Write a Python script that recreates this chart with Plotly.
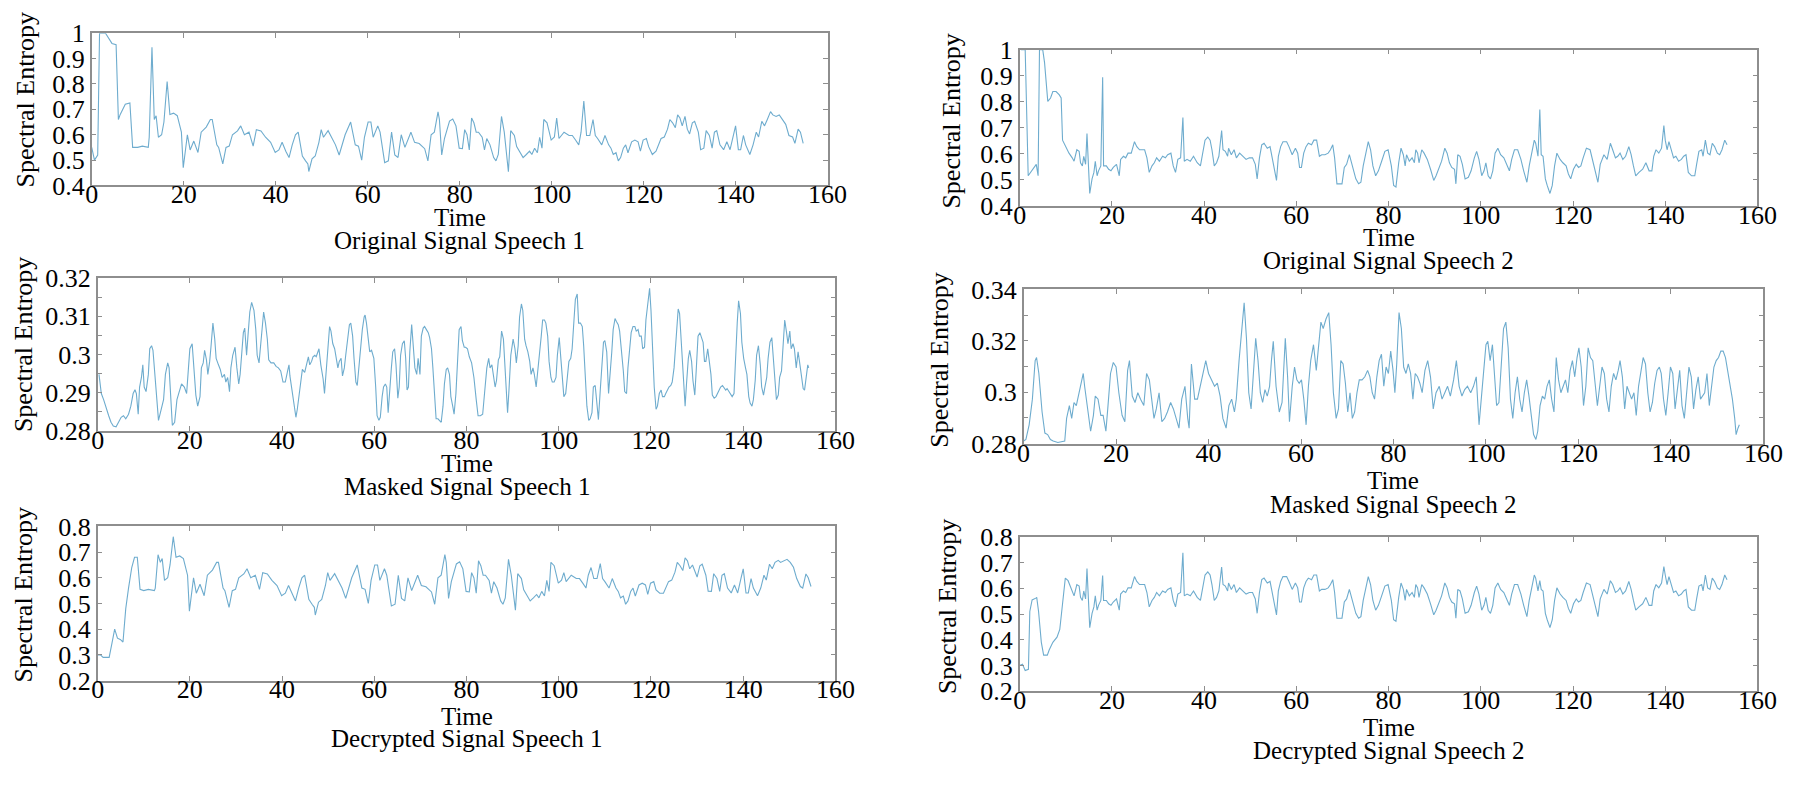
import plotly.graph_objects as go

# ---------------- data ----------------
time_ticks = [0, 20, 40, 60, 80, 100, 120, 140, 160]
time_tick_text = ["0", "20", "40", "60", "80", "100", "120", "140", "160"]

orig_ticks = [0.4, 0.5, 0.6, 0.7, 0.8, 0.9, 1.0]
orig_tick_text = ["0.4", "0.5", "0.6", "0.7", "0.8", "0.9", "1"]
masked1_ticks = [0.28, 0.285, 0.29, 0.295, 0.30, 0.305, 0.31, 0.315, 0.32]
masked1_tick_text = ["0.28", "", "0.29", "", "0.3", "", "0.31", "", "0.32"]
masked2_ticks = [0.28, 0.29, 0.30, 0.31, 0.32, 0.33, 0.34]
masked2_tick_text = ["0.28", "", "0.3", "", "0.32", "", "0.34"]
dec_ticks = [0.2, 0.3, 0.4, 0.5, 0.6, 0.7, 0.8]
dec_tick_text = ["0.2", "0.3", "0.4", "0.5", "0.6", "0.7", "0.8"]

titles = ["Original Signal Speech 1", "Original Signal Speech 2",
          "Masked Signal Speech 1", "Masked Signal Speech 2",
          "Decrypted Signal Speech 1", "Decrypted Signal Speech 2"]

# (time, spectral entropy) pairs
orig1 = [
 (0.0,0.55),(0.6,0.50),(1.3,0.52),(1.7,1.00),(3.0,1.00),(4.4,0.96),(5.3,0.955),(5.8,0.66),(6.2,0.68),
 (7.3,0.72),(8.3,0.725),(8.9,0.55),(10.0,0.55),(11.0,0.555),(12.3,0.55),(12.5,0.59),(13.1,0.945),
 (13.6,0.66),(14.0,0.675),(14.5,0.59),(15.2,0.60),(15.7,0.65),(16.4,0.81),(17.0,0.68),(17.8,0.685),
 (18.6,0.675),(19.5,0.61),(19.9,0.47),(20.8,0.60),(21.4,0.54),(22.2,0.575),(23.1,0.53),(23.8,0.61),
 (24.9,0.63),(25.8,0.66),(26.2,0.66),(27.2,0.56),(27.6,0.55),(28.5,0.485),(29.2,0.55),(29.9,0.555),
 (30.6,0.60),(31.7,0.615),(32.4,0.635),(33.2,0.60),(34.2,0.61),(35.1,0.555),(35.8,0.62),(36.8,0.615),
 (37.8,0.59),(38.9,0.57),(39.9,0.53),(40.7,0.54),(41.4,0.57),(42.2,0.535),(42.9,0.51),(43.6,0.56),
 (44.3,0.60),(44.9,0.61),(45.8,0.516),(46.5,0.497),(47.0,0.485),(47.2,0.455),(47.9,0.505),(48.6,0.516),
 (49.4,0.57),(49.9,0.62),(50.4,0.59),(51.4,0.616),(52.2,0.59),(53.0,0.56),(53.8,0.52),(55.1,0.60),
 (56.3,0.65),(57.3,0.56),(58.0,0.555),(58.7,0.50),(59.3,0.59),(60.1,0.65),(60.7,0.65),(61.2,0.59),
 (62.2,0.635),(62.7,0.61),(63.7,0.49),(64.5,0.497),(65.2,0.61),(65.9,0.52),(66.6,0.51),(67.3,0.60),
 (68.1,0.55),(69.4,0.61),(70.2,0.57),(71.2,0.565),(72.4,0.545),(73.1,0.497),(73.8,0.60),(74.5,0.61),
 (75.3,0.69),(75.6,0.66),(76.1,0.52),(76.7,0.585),(77.8,0.654),(78.5,0.662),(79.2,0.635),(79.9,0.547),
 (80.6,0.545),(81.1,0.62),(81.6,0.60),(82.1,0.54),(82.6,0.666),(83.1,0.647),(83.6,0.61),(84.1,0.61),
 (84.9,0.59),(85.4,0.54),(85.9,0.585),(86.6,0.56),(87.4,0.51),(87.9,0.497),(88.4,0.522),(89.1,0.672),
 (89.7,0.61),(90.2,0.522),(90.6,0.454),(91.1,0.616),(91.9,0.597),(92.4,0.553),(93.1,0.529),(93.8,0.51),
 (94.5,0.522),(95.2,0.535),(95.7,0.522),(96.3,0.547),(96.9,0.529),(97.4,0.59),(97.9,0.547),(98.3,0.66),
 (99.0,0.647),(99.9,0.579),(100.6,0.591),(101.1,0.666),(101.6,0.585),(102.7,0.61),(103.8,0.597),
 (104.5,0.597),(105.2,0.579),(105.9,0.56),(106.4,0.61),(107.0,0.733),(107.6,0.597),(108.3,0.597),
 (109.0,0.66),(109.5,0.597),(110.0,0.585),(110.9,0.56),(111.6,0.597),(112.4,0.56),(112.9,0.547),
 (113.4,0.522),(114.0,0.529),(114.5,0.497),(115.0,0.51),(115.6,0.547),(116.1,0.56),(116.6,0.529),
 (117.4,0.572),(118.1,0.579),(118.8,0.572),(119.3,0.535),(119.9,0.579),(120.6,0.585),(121.1,0.553),
 (121.9,0.522),(122.7,0.535),(123.8,0.585),(124.5,0.591),(125.2,0.622),(125.7,0.66),(126.3,0.647),
 (126.9,0.628),(127.4,0.678),(127.9,0.666),(128.4,0.635),(129.0,0.672),(129.5,0.622),(130.0,0.603),
 (130.6,0.647),(131.1,0.653),(131.9,0.61),(132.4,0.541),(133.1,0.547),(133.6,0.616),(134.3,0.597),
 (134.9,0.547),(135.4,0.61),(135.9,0.616),(136.6,0.56),(137.4,0.541),(138.1,0.572),(138.8,0.541),
 (139.5,0.597),(140.0,0.635),(140.6,0.541),(141.1,0.541),(141.7,0.597),(142.2,0.56),(143.1,0.522),
 (143.8,0.56),(144.5,0.61),(145.0,0.591),(145.7,0.653),(146.3,0.635),(146.9,0.66),(147.6,0.691),
 (148.1,0.678),(148.8,0.672),(149.5,0.678),(150.2,0.66),(150.9,0.641),(151.6,0.597),(152.4,0.591),
 (152.9,0.566),(153.6,0.622),(154.1,0.61),(154.7,0.566)]

orig2 = [
 (0.3,1.0),(1.2,1.0),(1.85,0.515),(2.6,0.534),(3.1,0.547),(3.6,0.559),(4.0,0.515),(4.3,1.0),(5.0,1.0),
 (5.4,0.95),(6.1,0.801),(6.7,0.814),(7.2,0.839),(7.9,0.839),(8.6,0.826),(9.0,0.814),(9.3,0.652),
 (10.0,0.627),(10.7,0.602),(11.4,0.584),(11.8,0.571),(12.4,0.615),(12.9,0.609),(13.2,0.565),(13.6,0.553),
 (13.9,0.59),(14.3,0.559),(14.6,0.677),(15.0,0.478),(15.2,0.447),(15.7,0.503),(16.1,0.528),(16.4,0.571),
 (16.8,0.515),(17.1,0.534),(17.6,0.553),(18.0,0.894),(18.2,0.553),(18.8,0.553),(19.3,0.54),(19.8,0.534),
 (20.3,0.547),(21.0,0.559),(21.6,0.515),(21.9,0.578),(22.5,0.59),(23.0,0.584),(23.5,0.602),(24.2,0.602),
 (24.9,0.646),(25.4,0.627),(26.0,0.615),(26.6,0.615),(27.1,0.615),(27.6,0.584),(28.1,0.528),(28.7,0.553),
 (29.2,0.565),(29.7,0.584),(30.3,0.571),(31.0,0.59),(31.6,0.584),(32.1,0.596),(32.8,0.602),(33.3,0.553),
 (33.8,0.528),(34.3,0.578),(34.9,0.584),(35.4,0.739),(35.7,0.571),(36.3,0.578),(37.0,0.571),(37.7,0.59),
 (38.5,0.565),(39.2,0.553),(39.7,0.602),(40.2,0.652),(40.8,0.664),(41.3,0.652),(41.7,0.615),(42.2,0.553),
 (42.7,0.565),(43.2,0.59),(43.8,0.689),(44.1,0.615),(44.6,0.609),(45.1,0.59),(45.3,0.621),(45.9,0.596),
 (46.5,0.615),(47.0,0.584),(47.7,0.602),(48.4,0.59),(49.1,0.578),(49.8,0.584),(50.5,0.584),(51.1,0.559),
 (51.5,0.503),(52.0,0.584),(52.5,0.634),(53.0,0.64),(53.7,0.621),(54.3,0.627),(54.8,0.578),(55.2,0.547),
 (55.7,0.497),(56.1,0.59),(56.6,0.627),(57.1,0.646),(57.9,0.646),(58.4,0.627),(59.1,0.596),(59.8,0.621),
 (60.3,0.602),(60.7,0.547),(61.1,0.547),(61.6,0.602),(62.1,0.627),(62.6,0.64),(63.3,0.634),(63.8,0.652),
 (64.4,0.652),(65.0,0.59),(65.5,0.596),(66.2,0.596),(66.9,0.602),(67.4,0.615),(67.9,0.634),(68.3,0.584),
 (68.8,0.484),(69.3,0.484),(69.9,0.484),(70.4,0.547),(70.9,0.559),(71.5,0.596),(72.2,0.553),(72.9,0.503),
 (73.5,0.484),(74.0,0.49),(74.5,0.553),(75.1,0.602),(75.6,0.646),(76.1,0.615),(76.6,0.553),(77.2,0.515),
 (77.8,0.534),(78.5,0.571),(79.2,0.609),(79.9,0.615),(80.1,0.596),(80.6,0.553),(81.1,0.478),(81.6,0.472),
 (82.2,0.565),(82.7,0.621),(83.2,0.596),(83.6,0.553),(83.9,0.596),(84.5,0.571),(85.1,0.584),(85.6,0.565),
 (85.9,0.615),(86.3,0.602),(86.6,0.565),(87.2,0.615),(87.7,0.602),(88.4,0.578),(89.1,0.54),(89.8,0.497),
 (90.3,0.515),(90.9,0.547),(91.5,0.571),(92.2,0.621),(92.7,0.602),(93.2,0.565),(93.7,0.547),(94.3,0.54),
 (94.6,0.484),(95.0,0.596),(95.5,0.59),(96.0,0.559),(96.6,0.503),(97.3,0.509),(97.9,0.534),(98.6,0.584),
 (99.1,0.609),(99.6,0.578),(100.2,0.515),(100.7,0.534),(101.1,0.565),(101.6,0.515),(102.1,0.503),
 (102.6,0.534),(103.1,0.602),(103.7,0.621),(104.3,0.596),(105.0,0.584),(105.7,0.553),(106.2,0.534),
 (106.7,0.578),(107.3,0.615),(108.0,0.615),(108.7,0.578),(109.3,0.534),(110.0,0.49),(110.5,0.553),
 (111.1,0.602),(111.6,0.652),(111.9,0.64),(112.4,0.59),(112.8,0.77),(113.1,0.596),(113.5,0.59),
 (114.0,0.503),(114.4,0.478),(115.0,0.447),(115.5,0.478),(116.0,0.553),(116.5,0.602),(117.2,0.578),
 (117.8,0.565),(118.5,0.553),(119.0,0.522),(119.5,0.503),(120.1,0.54),(120.7,0.559),(121.2,0.547),
 (121.7,0.553),(122.2,0.584),(122.9,0.621),(123.7,0.615),(124.4,0.559),(124.9,0.528),(125.4,0.49),
 (125.9,0.559),(126.7,0.596),(127.4,0.578),(128.1,0.64),(128.6,0.615),(129.2,0.584),(129.7,0.59),
 (130.2,0.602),(130.8,0.578),(131.4,0.59),(132.1,0.627),(132.6,0.596),(133.1,0.553),(133.6,0.515),
 (134.3,0.528),(135.1,0.54),(135.8,0.565),(136.5,0.534),(137.1,0.534),(137.5,0.59),(138.0,0.615),
 (138.6,0.602),(139.2,0.621),(139.7,0.708),(140.0,0.652),(140.4,0.615),(140.8,0.646),(141.3,0.609),
 (141.8,0.584),(142.3,0.59),(142.9,0.571),(143.5,0.578),(144.0,0.59),(144.5,0.596),(145.0,0.528),
 (145.7,0.515),(146.4,0.515),(146.8,0.559),(147.3,0.609),(147.9,0.615),(148.2,0.59),(148.7,0.652),
 (149.2,0.602),(149.7,0.596),(150.2,0.64),(150.7,0.627),(151.3,0.602),(151.8,0.596),(152.3,0.615),
 (152.9,0.652),(153.4,0.634)]

masked1 = [
 (0.3,0.2948),(0.8,0.2898),(1.3,0.2882),(1.9,0.2857),(2.4,0.2840),(2.9,0.2823),(3.4,0.2813),(4.0,0.2811),
 (4.6,0.2823),(5.1,0.2836),(5.6,0.2840),(6.1,0.2832),(6.7,0.2844),(7.2,0.2865),(7.7,0.2898),(8.1,0.2908),
 (8.4,0.2898),(8.8,0.2844),(9.1,0.2915),(9.5,0.2940),(9.8,0.2973),(10.1,0.2915),(10.5,0.2903),(11.0,0.2948),
 (11.3,0.3015),(11.7,0.3023),(12.0,0.3011),(12.5,0.2940),(13.0,0.2873),(13.2,0.2828),(13.8,0.2857),
 (14.3,0.2882),(14.7,0.2948),(15.2,0.2978),(15.5,0.2965),(16.0,0.2865),(16.2,0.2815),(16.7,0.2823),
 (17.2,0.2882),(17.7,0.2903),(18.2,0.2923),(18.8,0.2915),(19.3,0.2898),(19.7,0.2965),(20.0,0.3015),
 (20.5,0.3028),(20.9,0.2965),(21.3,0.2894),(21.7,0.2865),(22.2,0.2890),(22.5,0.2965),(22.9,0.2978),
 (23.2,0.3011),(23.6,0.2986),(23.9,0.2948),(24.3,0.2982),(24.6,0.3023),(25.0,0.3082),(25.4,0.3040),
 (25.7,0.2990),(26.2,0.2973),(26.6,0.2961),(27.0,0.2940),(27.5,0.2948),(27.8,0.2928),(28.2,0.2940),
 (28.6,0.2903),(28.9,0.2965),(29.3,0.2998),(29.8,0.3019),(30.2,0.2965),(30.6,0.2923),(30.9,0.2948),
 (31.3,0.3003),(31.6,0.3057),(31.9,0.3069),(32.3,0.2998),(32.6,0.3048),(33.0,0.3111),(33.4,0.3136),
 (33.9,0.3115),(34.3,0.3065),(34.6,0.2998),(35.0,0.2978),(35.3,0.3015),(35.7,0.3073),(36.0,0.3111),
 (36.4,0.3082),(36.8,0.3040),(37.1,0.2986),(37.6,0.2978),(38.2,0.2978),(38.7,0.2969),(39.2,0.2965),
 (39.7,0.2957),(40.2,0.2928),(40.7,0.2928),(41.2,0.2957),(41.5,0.2973),(41.7,0.2944),(42.1,0.2907),
 (42.6,0.2873),(43.0,0.2836),(43.3,0.2857),(43.9,0.2923),(44.4,0.2961),(44.9,0.2953),(45.3,0.2973),
 (45.7,0.2994),(46.0,0.2973),(46.4,0.2982),(46.7,0.2994),(47.1,0.2998),(47.4,0.2994),(48.0,0.3015),
 (48.4,0.2973),(48.9,0.2936),(49.2,0.2898),(49.6,0.2965),(49.9,0.3023),(50.3,0.3073),(50.6,0.3061),
 (51.0,0.3028),(51.4,0.3015),(51.7,0.2990),(52.1,0.2965),(52.4,0.2982),(52.8,0.2990),(53.1,0.2944),
 (53.5,0.2965),(53.8,0.2998),(54.2,0.3036),(54.6,0.3078),(54.9,0.3082),(55.3,0.3048),(55.6,0.2990),
 (56.0,0.2928),(56.3,0.2919),(56.7,0.2973),(57.1,0.3032),(57.4,0.3065),(57.8,0.3098),(58.0,0.3103),
 (58.3,0.3082),(58.7,0.3036),(59.0,0.3007),(59.4,0.3011),(59.9,0.2990),(60.3,0.2915),(60.6,0.2840),
 (61.0,0.2828),(61.3,0.2836),(61.7,0.2890),(62.0,0.2915),(62.4,0.2923),(62.7,0.2915),(63.0,0.2848),
 (63.2,0.2890),(63.7,0.2965),(64.0,0.3007),(64.4,0.3015),(64.7,0.2973),(65.1,0.2886),(65.4,0.2915),
 (65.7,0.2998),(66.1,0.3028),(66.5,0.3036),(66.8,0.2990),(67.1,0.2907),(67.4,0.2915),(67.7,0.3007),
 (68.1,0.3078),(68.4,0.3015),(68.8,0.2965),(69.2,0.2948),(69.5,0.2990),(69.9,0.2948),(70.2,0.3048),
 (70.6,0.3069),(70.9,0.3073),(71.3,0.3065),(71.7,0.3057),(72.0,0.3044),(72.4,0.3015),(72.7,0.2965),
 (73.1,0.2882),(73.4,0.2832),(73.8,0.2832),(74.1,0.2828),(74.5,0.2823),(74.9,0.2865),(75.2,0.2923),
 (75.6,0.2961),(75.9,0.2965),(76.3,0.2948),(76.6,0.2890),(77.0,0.2865),(77.3,0.2844),(77.7,0.2898),
 (78.1,0.2990),(78.4,0.3065),(78.8,0.3073),(79.1,0.3036),(79.5,0.3019),(79.8,0.3019),(80.2,0.3015),
 (80.6,0.2994),(81.1,0.2978),(81.6,0.2940),(82.1,0.2882),(82.5,0.2840),(83.0,0.2840),(83.5,0.2844),
 (83.9,0.2898),(84.4,0.2965),(84.8,0.2990),(85.1,0.2965),(85.5,0.2973),(85.8,0.2948),(86.2,0.2915),
 (86.5,0.2932),(86.9,0.2986),(87.2,0.2994),(87.6,0.3061),(88.0,0.3040),(88.3,0.2973),(88.7,0.2898),
 (88.9,0.2848),(89.2,0.2907),(89.6,0.2998),(90.1,0.3040),(90.5,0.3015),(90.8,0.2978),(91.2,0.3023),
 (91.5,0.3098),(91.9,0.3132),(92.2,0.3115),(92.6,0.3040),(92.9,0.3023),(93.3,0.3007),(93.7,0.2982),
 (94.0,0.2948),(94.4,0.2965),(94.7,0.2948),(95.1,0.2915),(95.4,0.2948),(95.8,0.2990),(96.2,0.3048),
 (96.5,0.3090),(96.9,0.3090),(97.2,0.3082),(97.6,0.3048),(97.9,0.2982),(98.3,0.2940),(98.6,0.2928),
 (99.0,0.2928),(99.4,0.2940),(99.7,0.2998),(100.1,0.3044),(100.4,0.2998),(100.8,0.2932),(101.1,0.2890),
 (101.5,0.2898),(101.9,0.2948),(102.2,0.2982),(102.6,0.2990),(102.9,0.3015),(103.3,0.3090),(103.6,0.3144),
 (104.0,0.3158),(104.3,0.3082),(104.7,0.3082),(105.1,0.3073),(105.4,0.3023),(105.8,0.2923),(106.1,0.2865),
 (106.5,0.2828),(106.8,0.2832),(107.2,0.2848),(107.5,0.2915),(107.9,0.2919),(108.3,0.2857),(108.6,0.2830),
 (109.0,0.2907),(109.3,0.2965),(109.7,0.3032),(110.0,0.3036),(110.4,0.3007),(110.8,0.2898),(111.1,0.2940),
 (111.5,0.3007),(111.8,0.3065),(112.2,0.3094),(112.5,0.3086),(112.9,0.3078),(113.2,0.3061),(113.6,0.3015),
 (114.0,0.2957),(114.3,0.2903),(114.7,0.2898),(115.0,0.2965),(115.4,0.3015),(115.7,0.3057),(116.1,0.3073),
 (116.5,0.3073),(116.8,0.3061),(117.2,0.3065),(117.5,0.3048),(117.9,0.3048),(118.2,0.3015),(118.6,0.3019),
 (118.9,0.3090),(119.3,0.3140),(119.7,0.3173),(120.0,0.3115),(120.4,0.3007),(120.7,0.2915),(121.1,0.2857),
 (121.4,0.2865),(121.8,0.2898),(122.2,0.2907),(122.5,0.2890),(122.9,0.2890),(123.2,0.2898),(123.6,0.2907),
 (123.9,0.2915),(124.3,0.2919),(124.6,0.2928),(125.0,0.2965),(125.4,0.3032),(125.7,0.3090),(125.9,0.3119),
 (126.2,0.3107),(126.6,0.3023),(126.9,0.2940),(127.4,0.2865),(127.7,0.2923),(128.1,0.2990),(128.4,0.3011),
 (128.8,0.2982),(129.1,0.2932),(129.5,0.2894),(129.8,0.2957),(130.2,0.3048),(130.6,0.3057),(130.9,0.3048),
 (131.3,0.3032),(131.6,0.2982),(131.9,0.2982),(132.3,0.3015),(132.6,0.2986),(133.0,0.2948),(133.3,0.2894),
 (133.7,0.2886),(134.1,0.2890),(134.4,0.2898),(134.8,0.2907),(135.1,0.2915),(135.5,0.2919),(135.8,0.2915),
 (136.2,0.2907),(136.5,0.2911),(136.9,0.2903),(137.3,0.2894),(137.6,0.2890),(138.0,0.2898),(138.3,0.2990),
 (138.7,0.3082),(139.0,0.3140),(139.4,0.3107),(139.7,0.3032),(140.1,0.2990),(140.5,0.2965),(140.8,0.2948),
 (141.2,0.2890),(141.5,0.2873),(141.9,0.2865),(142.2,0.2882),(142.6,0.2932),(142.9,0.2998),(143.3,0.3023),
 (143.7,0.2973),(144.0,0.2915),(144.4,0.2894),(144.7,0.2915),(145.1,0.2940),(145.4,0.2990),(145.8,0.3032),
 (146.2,0.3044),(146.5,0.2990),(146.9,0.2923),(147.2,0.2882),(147.6,0.2894),(147.9,0.2940),(148.3,0.2957),
 (148.6,0.3015),(149.0,0.3090),(149.4,0.3057),(149.7,0.3028),(150.1,0.3061),(150.4,0.3015),(150.8,0.3028),
 (151.1,0.3015),(151.5,0.2965),(151.9,0.3007),(152.2,0.2982),(152.6,0.2940),(153.0,0.2911),(153.3,0.2907),
 (153.6,0.2940),(154.0,0.2973),(154.2,0.2965)]

masked2 = [
 (0.0,0.281),(0.5,0.2816),(1.2,0.2873),(1.9,0.2973),(2.5,0.3123),(2.8,0.3135),(3.3,0.3073),(4.0,0.2923),
 (4.6,0.2841),(5.2,0.2835),(5.8,0.2816),(6.4,0.281),(7.4,0.2804),(8.3,0.2808),(8.9,0.281),(9.3,0.2898),
 (9.9,0.2948),(10.4,0.2898),(10.9,0.296),(11.4,0.2948),(12.0,0.2998),(12.4,0.3035),(12.9,0.3073),
 (13.2,0.3023),(13.8,0.2935),(14.5,0.2848),(15.1,0.291),(15.5,0.2985),(16.1,0.2973),(16.7,0.291),
 (17.2,0.291),(17.8,0.2848),(18.2,0.2935),(18.8,0.3073),(19.4,0.3116),(20.0,0.3098),(20.6,0.2998),
 (21.3,0.291),(21.9,0.2885),(22.5,0.3085),(22.9,0.3123),(23.5,0.2985),(24.1,0.296),(24.7,0.2998),
 (25.3,0.2973),(26.0,0.2948),(26.6,0.3073),(27.2,0.3048),(27.7,0.2973),(28.2,0.2898),(28.7,0.2935),
 (29.3,0.2998),(29.9,0.2885),(30.5,0.2898),(31.1,0.2923),(31.8,0.296),(32.4,0.2935),(33.0,0.2898),
 (33.6,0.286),(34.2,0.2973),(34.9,0.3023),(35.5,0.2898),(35.8,0.286),(36.3,0.311),(37.0,0.2973),
 (37.6,0.2973),(38.2,0.3023),(38.8,0.3085),(39.4,0.3123),(40.0,0.3073),(40.7,0.3048),(41.3,0.3023),
 (41.9,0.3035),(42.5,0.2985),(43.1,0.2898),(43.8,0.286),(44.4,0.2948),(45.0,0.2973),(45.6,0.2923),
 (46.0,0.2973),(46.6,0.3123),(47.2,0.3248),(47.7,0.3348),(48.2,0.321),(48.7,0.2998),(49.2,0.2935),
 (49.7,0.3085),(50.2,0.321),(50.7,0.3123),(51.2,0.2998),(51.7,0.296),(52.2,0.301),(52.7,0.2985),
 (53.2,0.3023),(53.6,0.3123),(54.0,0.3198),(54.6,0.3023),(55.3,0.2923),(55.9,0.296),(56.2,0.3085),
 (56.6,0.321),(57.1,0.306),(57.5,0.2885),(58.1,0.3023),(58.6,0.3098),(59.1,0.3048),(59.6,0.3035),
 (60.1,0.3048),(60.6,0.2973),(61.1,0.2873),(61.6,0.3023),(62.1,0.3123),(62.7,0.3185),(63.3,0.3085),
 (63.9,0.321),(64.3,0.3273),(64.8,0.3248),(65.4,0.3285),(66.0,0.331),(66.5,0.3185),(67.0,0.2998),
 (67.6,0.2898),(68.1,0.2935),(68.6,0.3123),(69.1,0.311),(69.6,0.3035),(70.1,0.2923),(70.6,0.2998),
 (71.1,0.2898),(71.6,0.2923),(72.1,0.2998),(72.6,0.3048),(73.2,0.3048),(73.8,0.306),(74.4,0.3085),
 (74.9,0.306),(75.4,0.2998),(75.9,0.2973),(76.4,0.306),(76.9,0.3123),(77.4,0.3148),(77.9,0.3023),
 (78.4,0.3098),(78.9,0.3073),(79.4,0.316),(79.9,0.3085),(80.3,0.2998),(80.7,0.311),(81.2,0.331),
 (81.7,0.3248),(82.2,0.3098),(82.7,0.3073),(83.2,0.311),(83.7,0.3073),(84.2,0.2973),(84.7,0.3073),
 (85.2,0.306),(85.7,0.3035),(86.2,0.2998),(86.8,0.3085),(87.4,0.3123),(88.0,0.306),(88.6,0.2935),
 (89.2,0.2998),(89.9,0.3023),(90.5,0.2973),(91.1,0.2998),(91.7,0.3023),(92.3,0.2985),(93.0,0.3048),
 (93.6,0.3123),(94.2,0.3023),(94.8,0.2985),(95.4,0.301),(96.0,0.3023),(96.7,0.2998),(97.3,0.3023),
 (97.9,0.306),(98.5,0.2873),(99.1,0.2998),(99.6,0.3098),(100.0,0.3185),(100.4,0.3198),(100.9,0.3123),
 (101.4,0.3185),(101.9,0.3073),(102.3,0.2948),(102.8,0.296),(103.3,0.3123),(103.8,0.3248),(104.3,0.3273),
 (104.8,0.3173),(105.3,0.2973),(105.8,0.2898),(106.3,0.2998),(106.8,0.306),(107.3,0.2973),(107.8,0.2923),
 (108.3,0.2998),(108.8,0.3048),(109.3,0.2985),(109.8,0.2898),(110.3,0.2835),(110.8,0.2816),(111.2,0.2848),
 (111.7,0.2948),(112.2,0.2985),(112.7,0.2973),(113.2,0.3023),(113.7,0.3048),(114.2,0.2973),(114.7,0.2923),
 (115.2,0.3135),(115.7,0.3048),(116.2,0.2998),(116.7,0.3023),(117.2,0.3048),(117.7,0.2998),(118.2,0.3085),
 (118.7,0.3123),(119.2,0.306),(119.7,0.3135),(120.1,0.3173),(120.6,0.3098),(121.1,0.2948),(121.6,0.3023),
 (122.1,0.3173),(122.6,0.3135),(123.1,0.3123),(123.6,0.3035),(124.1,0.2948),(124.6,0.3023),(125.1,0.3098),
 (125.6,0.3073),(126.1,0.2973),(126.6,0.2923),(127.1,0.3023),(127.6,0.3073),(128.1,0.3048),(128.6,0.3085),
 (129.0,0.3123),(129.5,0.306),(130.0,0.2935),(130.5,0.3023),(131.0,0.2998),(131.5,0.2973),(132.0,0.2998),
 (132.5,0.291),(133.0,0.3023),(133.5,0.3085),(134.0,0.3135),(134.5,0.311),(135.0,0.2998),(135.5,0.2923),
 (136.0,0.296),(136.5,0.3035),(137.0,0.3085),(137.5,0.3098),(137.9,0.3073),(138.4,0.2973),(138.9,0.291),
 (139.4,0.2998),(139.9,0.3098),(140.4,0.3073),(140.9,0.2935),(141.4,0.301),(141.9,0.3085),(142.4,0.2948),
 (142.9,0.2898),(143.4,0.2998),(143.9,0.3098),(144.4,0.306),(144.9,0.2935),(145.4,0.301),(145.9,0.306),
 (146.4,0.2973),(146.8,0.2985),(147.3,0.2998),(147.8,0.3073),(148.3,0.2948),(148.8,0.3023),(149.3,0.3098),
 (149.8,0.3123),(150.3,0.3135),(150.8,0.316),(151.3,0.316),(151.8,0.3135),(152.3,0.3085),(152.8,0.3023),
 (153.3,0.2973),(153.8,0.2898),(154.1,0.2835),(154.5,0.286),(154.8,0.2873)]

decrypted1 = [
 (0.0,0.30),(0.6,0.30),(1.2,0.29),(2.5,0.29),(3.1,0.345),(3.7,0.40),(4.3,0.365),(4.9,0.36),(5.5,0.35),
 (6.1,0.48),(6.7,0.56),(7.4,0.64),(8.0,0.68),(8.6,0.68),(9.2,0.555),(10.0,0.55),(11.0,0.555),(12.3,0.55),
 (12.5,0.56),(13.1,0.69),(13.6,0.66),(14.0,0.675),(14.5,0.59),(15.2,0.60),(15.7,0.65),(16.4,0.76),
 (17.0,0.68),(17.8,0.685),(18.6,0.675),(19.5,0.61),(19.9,0.47),(20.8,0.60),(21.4,0.54),(22.2,0.575),
 (23.1,0.53),(23.8,0.61),(24.9,0.63),(25.8,0.66),(26.2,0.66),(27.2,0.56),(27.6,0.55),(28.5,0.485),
 (29.2,0.55),(29.9,0.555),(30.6,0.60),(31.7,0.615),(32.4,0.635),(33.2,0.60),(34.2,0.61),(35.1,0.555),
 (35.8,0.62),(36.8,0.615),(37.8,0.59),(38.9,0.57),(39.9,0.53),(40.7,0.54),(41.4,0.57),(42.2,0.535),
 (42.9,0.51),(43.6,0.56),(44.3,0.60),(44.9,0.61),(45.8,0.516),(46.5,0.497),(47.0,0.485),(47.2,0.455),
 (47.9,0.505),(48.6,0.516),(49.4,0.57),(49.9,0.62),(50.4,0.59),(51.4,0.616),(52.2,0.59),(53.0,0.56),
 (53.8,0.52),(55.1,0.60),(56.3,0.65),(57.3,0.56),(58.0,0.555),(58.7,0.50),(59.3,0.59),(60.1,0.65),
 (60.7,0.65),(61.2,0.59),(62.2,0.635),(62.7,0.61),(63.7,0.49),(64.5,0.497),(65.2,0.61),(65.9,0.52),
 (66.6,0.51),(67.3,0.60),(68.1,0.55),(69.4,0.61),(70.2,0.57),(71.2,0.565),(72.4,0.545),(73.1,0.497),
 (73.8,0.60),(74.5,0.61),(75.3,0.69),(75.6,0.66),(76.1,0.52),(76.7,0.585),(77.8,0.654),(78.5,0.662),
 (79.2,0.635),(79.9,0.547),(80.6,0.545),(81.1,0.62),(81.6,0.60),(82.1,0.54),(82.6,0.666),(83.1,0.647),
 (83.6,0.61),(84.1,0.61),(84.9,0.59),(85.4,0.54),(85.9,0.585),(86.6,0.56),(87.4,0.51),(87.9,0.497),
 (88.4,0.522),(89.1,0.672),(89.7,0.61),(90.2,0.522),(90.6,0.474),(91.1,0.616),(91.9,0.597),(92.4,0.553),
 (93.1,0.529),(93.8,0.51),(94.5,0.522),(95.2,0.535),(95.7,0.522),(96.3,0.547),(96.9,0.529),(97.4,0.59),
 (97.9,0.547),(98.3,0.66),(99.0,0.647),(99.9,0.579),(100.6,0.591),(101.1,0.62),(101.6,0.585),(102.7,0.61),
 (103.8,0.597),(104.5,0.597),(105.2,0.579),(105.9,0.56),(106.4,0.61),(107.0,0.64),(107.6,0.597),
 (108.3,0.597),(109.0,0.655),(109.5,0.597),(110.0,0.585),(110.9,0.56),(111.6,0.597),(112.4,0.56),
 (112.9,0.547),(113.4,0.522),(114.0,0.529),(114.5,0.497),(115.0,0.51),(115.6,0.547),(116.1,0.56),
 (116.6,0.529),(117.4,0.572),(118.1,0.579),(118.8,0.572),(119.3,0.535),(119.9,0.579),(120.6,0.585),
 (121.1,0.553),(121.9,0.54),(122.7,0.54),(123.8,0.585),(124.5,0.591),(125.2,0.622),(125.7,0.66),
 (126.3,0.647),(126.9,0.628),(127.4,0.678),(127.9,0.666),(128.4,0.635),(129.0,0.65),(129.5,0.622),
 (130.0,0.603),(130.6,0.647),(131.1,0.653),(131.9,0.61),(132.4,0.548),(133.1,0.547),(133.6,0.616),
 (134.3,0.597),(134.9,0.547),(135.4,0.61),(135.9,0.616),(136.6,0.56),(137.4,0.541),(138.1,0.572),
 (138.8,0.541),(139.5,0.597),(140.0,0.635),(140.6,0.541),(141.1,0.541),(141.7,0.597),(142.2,0.56),
 (143.1,0.53),(143.8,0.56),(144.5,0.61),(145.0,0.591),(145.7,0.653),(146.3,0.635),(146.9,0.66),
 (147.6,0.668),(148.1,0.66),(148.8,0.665),(149.5,0.672),(150.2,0.66),(150.9,0.641),(151.6,0.597),
 (152.4,0.566),(152.9,0.56),(153.6,0.615),(154.1,0.60),(154.7,0.566)]

decrypted2 = [
 (0.0,0.30),(0.6,0.305),(1.2,0.28),(1.9,0.285),(2.2,0.51),(2.7,0.555),(3.5,0.562),(3.7,0.565),(4.1,0.51),
 (4.7,0.39),(5.2,0.34),(6.0,0.34),(6.4,0.36),(7.2,0.39),(8.1,0.41),(8.7,0.44),(9.3,0.54),(9.9,0.64),
 (10.5,0.63),(11.4,0.584),(11.8,0.571),(12.4,0.615),(12.9,0.609),(13.2,0.565),(13.6,0.553),(13.9,0.59),
 (14.3,0.559),(14.6,0.677),(15.0,0.478),(15.2,0.447),(15.7,0.503),(16.1,0.528),(16.4,0.571),(16.8,0.515),
 (17.1,0.534),(17.6,0.553),(18.0,0.65),(18.2,0.553),(18.8,0.553),(19.3,0.54),(19.8,0.534),(20.3,0.547),
 (21.0,0.559),(21.6,0.515),(21.9,0.578),(22.5,0.59),(23.0,0.584),(23.5,0.602),(24.2,0.602),(24.9,0.646),
 (25.4,0.627),(26.0,0.615),(26.6,0.615),(27.1,0.615),(27.6,0.584),(28.1,0.528),(28.7,0.553),(29.2,0.565),
 (29.7,0.584),(30.3,0.571),(31.0,0.59),(31.6,0.584),(32.1,0.596),(32.8,0.602),(33.3,0.553),(33.8,0.528),
 (34.3,0.578),(34.9,0.584),(35.4,0.739),(35.7,0.571),(36.3,0.578),(37.0,0.571),(37.7,0.59),(38.5,0.565),
 (39.2,0.553),(39.7,0.602),(40.2,0.652),(40.8,0.664),(41.3,0.652),(41.7,0.615),(42.2,0.553),(42.7,0.565),
 (43.2,0.59),(43.8,0.683),(44.1,0.615),(44.6,0.609),(45.1,0.59),(45.3,0.621),(45.9,0.596),(46.5,0.615),
 (47.0,0.584),(47.7,0.602),(48.4,0.59),(49.1,0.578),(49.8,0.584),(50.5,0.584),(51.1,0.559),(51.5,0.503),
 (52.0,0.584),(52.5,0.634),(53.0,0.64),(53.7,0.621),(54.3,0.627),(54.8,0.578),(55.2,0.547),(55.7,0.497),
 (56.1,0.59),(56.6,0.627),(57.1,0.646),(57.9,0.646),(58.4,0.627),(59.1,0.596),(59.8,0.621),(60.3,0.602),
 (60.7,0.547),(61.1,0.547),(61.6,0.602),(62.1,0.627),(62.6,0.64),(63.3,0.634),(63.8,0.652),(64.4,0.652),
 (65.0,0.59),(65.5,0.596),(66.2,0.596),(66.9,0.602),(67.4,0.615),(67.9,0.634),(68.3,0.584),(68.8,0.484),
 (69.3,0.484),(69.9,0.484),(70.4,0.547),(70.9,0.559),(71.5,0.596),(72.2,0.553),(72.9,0.503),(73.5,0.484),
 (74.0,0.49),(74.5,0.553),(75.1,0.602),(75.6,0.646),(76.1,0.615),(76.6,0.553),(77.2,0.515),(77.8,0.534),
 (78.5,0.571),(79.2,0.609),(79.9,0.615),(80.1,0.596),(80.6,0.553),(81.1,0.478),(81.6,0.472),(82.2,0.565),
 (82.7,0.621),(83.2,0.596),(83.6,0.553),(83.9,0.596),(84.5,0.571),(85.1,0.584),(85.6,0.565),(85.9,0.615),
 (86.3,0.602),(86.6,0.565),(87.2,0.615),(87.7,0.602),(88.4,0.578),(89.1,0.54),(89.8,0.497),(90.3,0.515),
 (90.9,0.547),(91.5,0.571),(92.2,0.621),(92.7,0.602),(93.2,0.565),(93.7,0.547),(94.3,0.54),(94.6,0.484),
 (95.0,0.596),(95.5,0.59),(96.0,0.559),(96.6,0.503),(97.3,0.509),(97.9,0.534),(98.6,0.584),(99.1,0.609),
 (99.6,0.578),(100.2,0.515),(100.7,0.534),(101.1,0.565),(101.6,0.515),(102.1,0.503),(102.6,0.534),
 (103.1,0.602),(103.7,0.621),(104.3,0.596),(105.0,0.584),(105.7,0.553),(106.2,0.534),(106.7,0.578),
 (107.3,0.615),(108.0,0.615),(108.7,0.578),(109.3,0.534),(110.0,0.49),(110.5,0.553),(111.1,0.602),
 (111.6,0.652),(111.9,0.64),(112.4,0.59),(112.8,0.63),(113.1,0.596),(113.5,0.59),(114.0,0.503),
 (114.4,0.478),(115.0,0.447),(115.5,0.478),(116.0,0.553),(116.5,0.602),(117.2,0.578),(117.8,0.565),
 (118.5,0.553),(119.0,0.522),(119.5,0.503),(120.1,0.54),(120.7,0.559),(121.2,0.547),(121.7,0.553),
 (122.2,0.584),(122.9,0.621),(123.7,0.615),(124.4,0.559),(124.9,0.528),(125.4,0.49),(125.9,0.559),
 (126.7,0.596),(127.4,0.578),(128.1,0.63),(128.6,0.615),(129.2,0.584),(129.7,0.59),(130.2,0.602),
 (130.8,0.578),(131.4,0.59),(132.1,0.627),(132.6,0.596),(133.1,0.553),(133.6,0.515),(134.3,0.528),
 (135.1,0.54),(135.8,0.565),(136.5,0.534),(137.1,0.534),(137.5,0.59),(138.0,0.615),(138.6,0.602),
 (139.2,0.621),(139.7,0.685),(140.0,0.652),(140.4,0.615),(140.8,0.646),(141.3,0.609),(141.8,0.584),
 (142.3,0.59),(142.9,0.571),(143.5,0.578),(144.0,0.59),(144.5,0.596),(145.0,0.528),(145.7,0.515),
 (146.4,0.515),(146.8,0.559),(147.3,0.609),(147.9,0.615),(148.2,0.59),(148.7,0.652),(149.2,0.602),
 (149.7,0.596),(150.2,0.64),(150.7,0.627),(151.3,0.602),(151.8,0.596),(152.3,0.615),(152.9,0.652),
 (153.4,0.634)]

# ---------------- layout (pixel geometry of the six panels) ----------------
W, H = 1809, 788
FONT = "Liberation Serif, Times New Roman, serif"
LINE = "#6eacce"
FRAME = "#8e8e8e"

panels = [
    dict(series=orig1, title=titles[0], xp=(86, 833), yp=(20, 178), yr=(0.4, 1.0),
         tv=orig_ticks, tt=orig_tick_text, ylx=19, yly=89, time_y=211, title_y=235),
    dict(series=orig2, title=titles[1], xp=(1028, 1777), yp=(37, 199), yr=(0.4, 1.0),
         tv=orig_ticks, tt=orig_tick_text, ylx=959, yly=111, time_y=232, title_y=256),
    dict(series=masked1, title=titles[2], xp=(92, 841), yp=(274, 433), yr=(0.28, 0.32),
         tv=masked1_ticks, tt=masked1_tick_text, ylx=17, yly=343, time_y=467, title_y=491),
    dict(series=masked2, title=titles[3], xp=(1032, 1783), yp=(286, 446), yr=(0.28, 0.34),
         tv=masked2_ticks, tt=masked2_tick_text, ylx=947, yly=359, time_y=484, title_y=509),
    dict(series=decrypted1, title=titles[4], xp=(92, 841), yp=(532, 692), yr=(0.2, 0.8),
         tv=dec_ticks, tt=dec_tick_text, ylx=17, yly=603, time_y=729, title_y=752),
    dict(series=decrypted2, title=titles[5], xp=(1028, 1777), yp=(543, 703), yr=(0.2, 0.8),
         tv=dec_ticks, tt=dec_tick_text, ylx=955, yly=615, time_y=741, title_y=765),
]

fig = go.Figure()
annotations = []
axis_common = dict(showline=True, linecolor=FRAME, linewidth=1.5, mirror="ticks",
                   ticks="inside", ticklen=5, tickwidth=1, tickcolor=FRAME,
                   showgrid=False, zeroline=False,
                   tickfont=dict(family=FONT, size=26, color="black"))

for i, p in enumerate(panels, start=1):
    xs = [pt[0] for pt in p["series"]]
    ys = [pt[1] for pt in p["series"]]
    xa = "x" if i == 1 else f"x{i}"
    ya = "y" if i == 1 else f"y{i}"
    fig.add_trace(go.Scatter(x=xs, y=ys, mode="lines", xaxis=xa, yaxis=ya,
                             line=dict(color=LINE, width=1.1), showlegend=False,
                             hoverinfo="skip"))
    xdom = [p["xp"][0] / W, p["xp"][1] / W]
    ydom = [1 - p["yp"][1] / H, 1 - p["yp"][0] / H]
    fig.layout[f"xaxis{'' if i == 1 else i}"] = dict(
        domain=xdom, range=[0, 160], anchor=ya, tickvals=time_ticks,
        ticktext=time_tick_text, ticklabelstandoff=-15, **axis_common)
    fig.layout[f"yaxis{'' if i == 1 else i}"] = dict(
        domain=ydom, range=list(p["yr"]), anchor=xa, tickvals=p["tv"],
        ticktext=p["tt"], **axis_common)
    cx = (p["xp"][0] + p["xp"][1]) / 2 / W
    annotations.append(dict(text="Time", x=cx, y=1 - p["time_y"] / H, xref="paper", yref="paper",
                            showarrow=False, xanchor="center", yanchor="middle",
                            font=dict(family=FONT, size=25, color="black")))
    annotations.append(dict(text=p["title"], x=cx, y=1 - p["title_y"] / H, xref="paper", yref="paper",
                            showarrow=False, xanchor="center", yanchor="middle",
                            font=dict(family=FONT, size=25, color="black")))
    annotations.append(dict(text="Spectral Entropy", x=p["ylx"] / W, y=1 - p["yly"] / H,
                            xref="paper", yref="paper",
                            showarrow=False, xanchor="center", yanchor="middle", textangle=-90,
                            font=dict(family=FONT, size=26, color="black")))

fig.update_layout(width=W, height=H, margin=dict(l=0, r=0, t=0, b=0),
                  paper_bgcolor="white", plot_bgcolor="white",
                  annotations=annotations, showlegend=False)

fig.write_html("out.html")
